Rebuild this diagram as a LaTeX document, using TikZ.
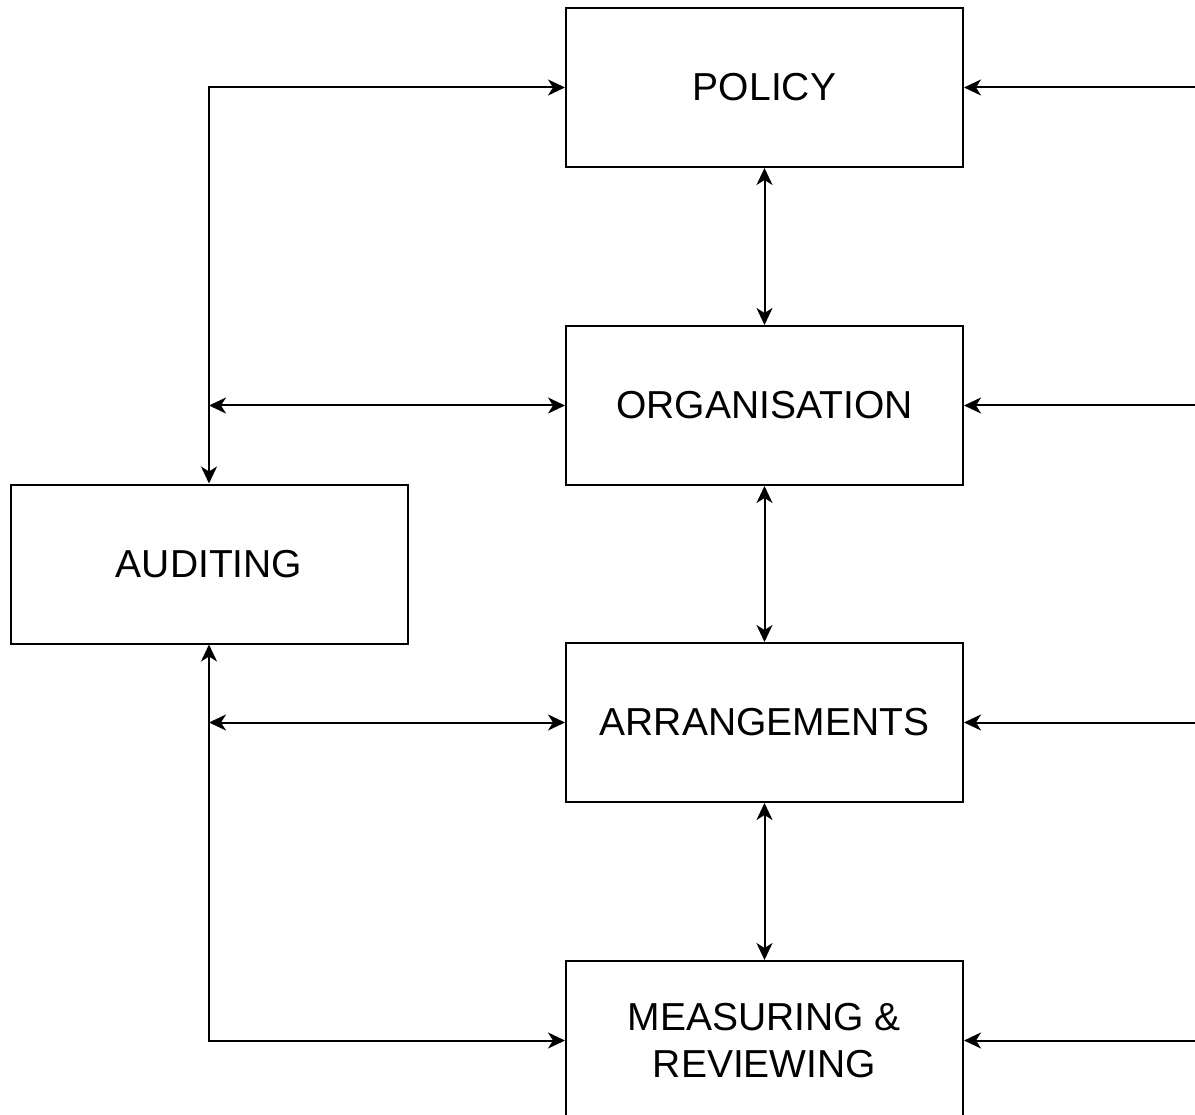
\documentclass[tikz,border=0pt]{standalone}
\usepackage{fontspec}
\setmainfont{Liberation Sans}
\usetikzlibrary{arrows.meta}
\begin{document}
\begin{tikzpicture}[x=1pt,y=-1pt,
  >={Stealth[length=17pt,width=16pt,inset=5pt]},
  blk/.style={draw=black, line width=2pt, minimum width=397pt, minimum height=159pt,
    inner sep=0pt, align=center, font=\fontsize{39}{47}\selectfont},
  conn/.style={line width=2pt, draw=black}
]
\clip (0,0) rectangle (1195,1115);
\fill[white] (0,0) rectangle (1195,1115);
\node[blk] (pol) at (764.5,87.5) {POLICY};
\node[blk] (org) at (764.5,405.5) {ORGANISATION};
\node[blk] (arr) at (764.5,722.5) {ARRANGEMENTS};
\node[blk] (mea) at (764.5,1040.5) {MEASURING \&\\REVIEWING};
\node[blk] (aud) at (209,564) {AUDITING};
\coordinate (jo) at (209,405.5);
\coordinate (ja) at (209,722.5);
\coordinate (r1) at (1200,87.5);
\coordinate (r2) at (1200,405.5);
\coordinate (r3) at (1200,722.5);
\coordinate (r4) at (1200,1040.5);
\draw[conn,<->] (aud.north) |- (pol.west);
\draw[conn,<->] (jo) -- (org.west);
\draw[conn,<->] (ja) -- (arr.west);
\draw[conn,<->] (aud.south) |- (mea.west);
\draw[conn,<->] (pol.south) -- (org.north);
\draw[conn,<->] (org.south) -- (arr.north);
\draw[conn,<->] (arr.south) -- (mea.north);
\draw[conn,->] (r1) -- (pol.east);
\draw[conn,->] (r2) -- (org.east);
\draw[conn,->] (r3) -- (arr.east);
\draw[conn,->] (r4) -- (mea.east);
\end{tikzpicture}
\end{document}
